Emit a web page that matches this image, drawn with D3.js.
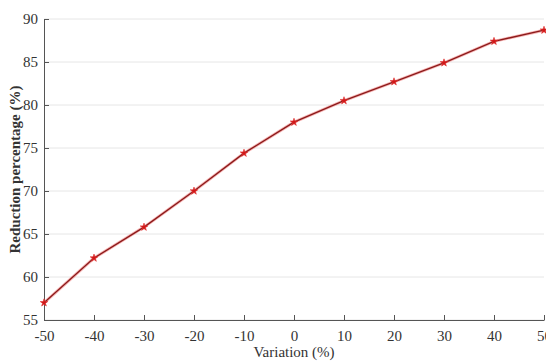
<!DOCTYPE html>
<html>
<head>
<meta charset="utf-8">
<script src="https://cdn.jsdelivr.net/npm/d3@7"></script>
<style>
  body { margin: 0; background: #fff; }
  svg text { font-family: "Liberation Serif", "DejaVu Serif", serif; }
</style>
</head>
<body>
<div id="chart"></div>
<script>
// Data
const variation = [-50, -40, -30, -20, -10, 0, 10, 20, 30, 40, 50];
const reduction = [57.0, 62.2, 65.8, 70.0, 74.4, 78.0, 80.5, 82.7, 84.9, 87.4, 88.7];
const xTicks = [-50, -40, -30, -20, -10, 0, 10, 20, 30, 40, 50];
const yTicks = [55, 60, 65, 70, 75, 80, 85, 90];

const width = 546, height = 361;
const margin = { top: 19, right: 2, bottom: 41, left: 44 };

const svg = d3.select("#chart")
    .append("svg")
    .attr("width", width)
    .attr("height", height);

const xScale = d3.scaleLinear()
    .domain([-50, 50])
    .range([margin.left, width - margin.right]);

const yScale = d3.scaleLinear()
    .domain([55, 90])
    .range([height - margin.bottom, margin.top]);

// horizontal grid lines
svg.append("g")
    .selectAll("line")
    .data(yTicks)
    .enter().append("line")
    .attr("x1", margin.left)
    .attr("x2", width - margin.right)
    .attr("y1", d => yScale(d))
    .attr("y2", d => yScale(d))
    .attr("stroke", "#e6e6e6")
    .attr("stroke-width", 1);

// x axis (plain hyphen for negatives, like the original)
const xAxis = d3.axisBottom(xScale)
    .tickValues(xTicks)
    .tickSizeInner(-5)
    .tickSizeOuter(0)
    .tickPadding(10)
    .tickFormat(d => String(d));

const xAxisGroup = svg.append("g")
    .attr("transform", `translate(0, ${height - margin.bottom})`)
    .call(xAxis);
xAxisGroup.select(".domain").attr("stroke", "#555");
xAxisGroup.selectAll(".tick line").attr("stroke", "#555");
xAxisGroup.selectAll("text")
    .style("font-size", "15px")
    .attr("fill", "#333");

// y axis
const yAxis = d3.axisLeft(yScale)
    .tickValues(yTicks)
    .tickSizeInner(-5)
    .tickSizeOuter(0)
    .tickPadding(6);

const yAxisGroup = svg.append("g")
    .attr("transform", `translate(${margin.left}, 0)`)
    .call(yAxis);
yAxisGroup.select(".domain").attr("stroke", "#555");
yAxisGroup.selectAll(".tick line").attr("stroke", "#555");
yAxisGroup.selectAll("text")
    .style("font-size", "15px")
    .attr("fill", "#333");

const points = variation.map((v, i) => [v, reduction[i]]);

const line = d3.line()
    .x(d => xScale(d[0]))
    .y(d => yScale(d[1]));

// red halo under the line
svg.append("path")
    .datum(points)
    .attr("d", line)
    .attr("fill", "none")
    .attr("stroke", "#f08080")
    .attr("stroke-width", 3)
    .style("opacity", 0.6);

svg.append("path")
    .datum(points)
    .attr("d", line)
    .attr("fill", "none")
    .attr("stroke", "#8b1a1a")
    .attr("stroke-width", 1.3);

// star markers
const star = d3.symbol().type(d3.symbolStar).size(18);
svg.append("g")
    .selectAll("path")
    .data(points)
    .enter().append("path")
    .attr("d", star)
    .attr("transform", d => `translate(${xScale(d[0])}, ${yScale(d[1])})`)
    .attr("fill", "#d01818")
    .attr("stroke", "#e03030")
    .attr("stroke-width", 0.6);

// axis titles
svg.append("text")
    .attr("x", 294)
    .attr("y", 357)
    .attr("text-anchor", "middle")
    .style("font-size", "15px")
    .attr("fill", "#333")
    .text("Variation (%)");

svg.append("text")
    .attr("transform", `translate(20, ${(margin.top + height - margin.bottom) / 2}) rotate(-90)`)
    .attr("text-anchor", "middle")
    .style("font-size", "15px")
    .style("font-weight", "bold")
    .attr("fill", "#333")
    .text("Reduction percentage (%)");
</script>
</body>
</html>
